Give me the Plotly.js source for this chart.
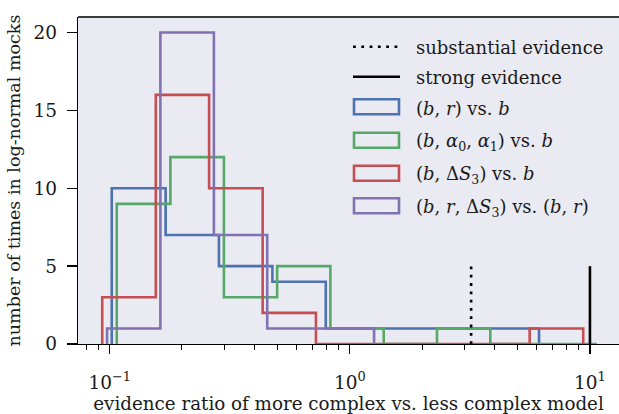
<!DOCTYPE html>
<html>
<head>
<meta charset="utf-8">
<script src="https://cdn.plot.ly/plotly-3.0.1.min.js"></script>
<style>
  html, body { margin: 0; padding: 0; overflow: hidden; background: #fff; }
  #chart { width: 619px; height: 414px; }
</style>
</head>
<body>
<div id="chart"></div>
<script>
// ---- data (bin edges in evidence-ratio units, counts per bin) ----
const blueEdges   = [0.102, 0.171, 0.285, 0.476, 0.794, 1.324, 2.208, 3.681, 6.138];
const blueCounts  = [10, 7, 5, 4, 1, 1, 1, 1];
const greenEdges  = [0.107, 0.179, 0.299, 0.498, 0.830, 1.384, 2.307, 3.846, 6.412, 10.69];
const greenCounts = [9, 12, 3, 5, 1, 0, 1, 0, 0];
const redEdges    = [0.0931, 0.1556, 0.2594, 0.4335, 0.7228, 1.208, 2.014, 3.365, 5.610, 9.376];
const redCounts   = [3, 16, 10, 2, 0, 0, 0, 0, 1];
const purpleEdges = [0.0975, 0.1626, 0.2716, 0.4529, 0.7568, 1.262];
const purpleCounts= [1, 20, 7, 1, 1];

const substantialX = 3.2;
const strongX = 10;
const thresholdHeight = 5;

const seriesNames = [
  "(<i>b</i>, <i>r</i>) vs. <i>b</i>",
  "(<i>b</i>, <i>α</i><sub>0</sub>, <i>α</i><sub>1</sub>) vs. <i>b</i>",
  "(<i>b</i>, Δ<i>S</i><sub>3</sub>) vs. <i>b</i>",
  "(<i>b</i>, <i>r</i>, Δ<i>S</i><sub>3</sub>) vs. (<i>b</i>, <i>r</i>)"
];
const lineNames = ["substantial evidence", "strong evidence"];

const xTickVals = [0.1, 1, 10];
const xTickText = ["10<sup>−1</sup>", "10<sup>0</sup>", "10<sup>1</sup>"];
const xMinorVals = [0.08, 0.09, 0.2, 0.3, 0.4, 0.5, 0.6, 0.7, 0.8, 0.9, 2, 3, 4, 5, 6, 7, 8, 9];
const yTickVals = [0, 5, 10, 15, 20];

const colors = ["#4C72B0", "#55A868", "#C44E52", "#8172B2"];

// ---- build step outlines from edges/counts ----
function stepPath(edges, counts) {
  const xs = [edges[0]], ys = [0];
  for (let i = 0; i < counts.length; i++) {
    xs.push(edges[i]); ys.push(counts[i]);
    xs.push(edges[i + 1]); ys.push(counts[i]);
  }
  xs.push(edges[edges.length - 1]); ys.push(0);
  return {xs, ys};
}

const allSeries = [
  [blueEdges, blueCounts],
  [greenEdges, greenCounts],
  [redEdges, redCounts],
  [purpleEdges, purpleCounts]
];

const traces = allSeries.map((s, i) => {
  const p = stepPath(s[0], s[1]);
  return {
    type: "scatter", mode: "lines", x: p.xs, y: p.ys,
    line: {color: colors[i], width: 2.6},
    name: seriesNames[i], showlegend: false, hoverinfo: "skip"
  };
});

traces.push({
  type: "scatter", mode: "lines",
  x: [substantialX, substantialX], y: [0, thresholdHeight],
  line: {color: "black", width: 2.6, dash: "2.8px,5.5px"},
  name: lineNames[0], showlegend: false, hoverinfo: "skip"
});
traces.push({
  type: "scatter", mode: "lines",
  x: [strongX, strongX], y: [0, thresholdHeight],
  line: {color: "black", width: 2.6},
  name: lineNames[1], showlegend: false, hoverinfo: "skip"
});

// ---- manual legend (paper coordinates) ----
const L = 78, R = 619, T = 17, B = 344;
const px = v => (v - L) / (R - L);
const py = v => (B - v) / (B - T);

const shapes = [];
const annotations = [];
const lineRows = [46.7, 76.7];
const boxRows = [106.7, 140.3, 173.3, 205.7];
const sx0 = 353, sx1 = 400, tx = 414;

// top spine
shapes.push({type: "line", xref: "paper", yref: "paper", layer: "above",
  x0: 0, x1: 1, y0: 1, y1: 1, line: {color: "black", width: 1.3}});

shapes.push({type: "line", xref: "paper", yref: "paper",
  x0: px(sx0), x1: px(sx1), y0: py(lineRows[0]), y1: py(lineRows[0]),
  line: {color: "black", width: 2.6, dash: "2.8px,5.5px"}});
shapes.push({type: "line", xref: "paper", yref: "paper",
  x0: px(sx0), x1: px(sx1), y0: py(lineRows[1]), y1: py(lineRows[1]),
  line: {color: "black", width: 2.6}});
boxRows.forEach((r, i) => {
  shapes.push({type: "rect", xref: "paper", yref: "paper",
    x0: px(sx0 + 1), x1: px(sx1 - 1), y0: py(r - 7.5), y1: py(r + 7.5),
    line: {color: colors[i], width: 2.6}, fillcolor: "rgba(0,0,0,0)"});
});
const legendFont = {family: "DejaVu Serif", size: 18, color: "#1a1a1a"};
lineNames.forEach((t, i) => {
  annotations.push({xref: "paper", yref: "paper", x: px(tx), y: py(lineRows[i] + 1),
    text: t, showarrow: false, xanchor: "left", yanchor: "middle", font: legendFont});
});
seriesNames.forEach((t, i) => {
  annotations.push({xref: "paper", yref: "paper", x: px(tx), y: py(boxRows[i] + 2),
    text: t, showarrow: false, xanchor: "left", yanchor: "middle", font: legendFont});
});

const layout = {
  width: 619, height: 414,
  margin: {l: L, r: 0, t: T, b: 414 - B, pad: 0},
  paper_bgcolor: "#ffffff",
  plot_bgcolor: "#EAEAF2",
  font: {family: "DejaVu Serif", color: "#1a1a1a"},
  showlegend: false,
  xaxis: {
    type: "log", range: [-1.132, 1.121], automargin: false,
    showgrid: false, zeroline: false,
    showline: true, linecolor: "black", linewidth: 1.3, mirror: false,
    ticks: "outside", ticklen: 9, tickwidth: 1.3, tickcolor: "black",
    tickmode: "array", tickvals: xTickVals, ticktext: xTickText,
    ticklabelstandoff: 12,
    tickfont: {family: "DejaVu Serif", size: 18.5, color: "#1a1a1a"},
    minor: {tickmode: "array", tickvals: xMinorVals, ticks: "outside", ticklen: 5,
            tickwidth: 1, tickcolor: "black", showgrid: false},
    title: {text: "evidence ratio of more complex vs. less complex model",
            font: {family: "DejaVu Serif", size: 18.3, color: "#1a1a1a"}, standoff: 6}
  },
  yaxis: {
    range: [0, 21], automargin: false,
    showgrid: false, zeroline: false,
    showline: true, linecolor: "black", linewidth: 1.3, mirror: false,
    ticks: "outside", ticklen: 10, tickwidth: 1.3, tickcolor: "black",
    tickmode: "array", tickvals: yTickVals,
    ticklabelstandoff: 6,
    tickfont: {family: "DejaVu Serif", size: 18.5, color: "#1a1a1a"},
    title: {text: "number of times in log-normal mocks",
            font: {family: "DejaVu Serif", size: 17.5, color: "#1a1a1a"}, standoff: 8}
  },
  shapes: shapes,
  annotations: annotations
};

Plotly.newPlot("chart", traces, layout, {staticPlot: true, displayModeBar: false});
</script>
</body>
</html>
